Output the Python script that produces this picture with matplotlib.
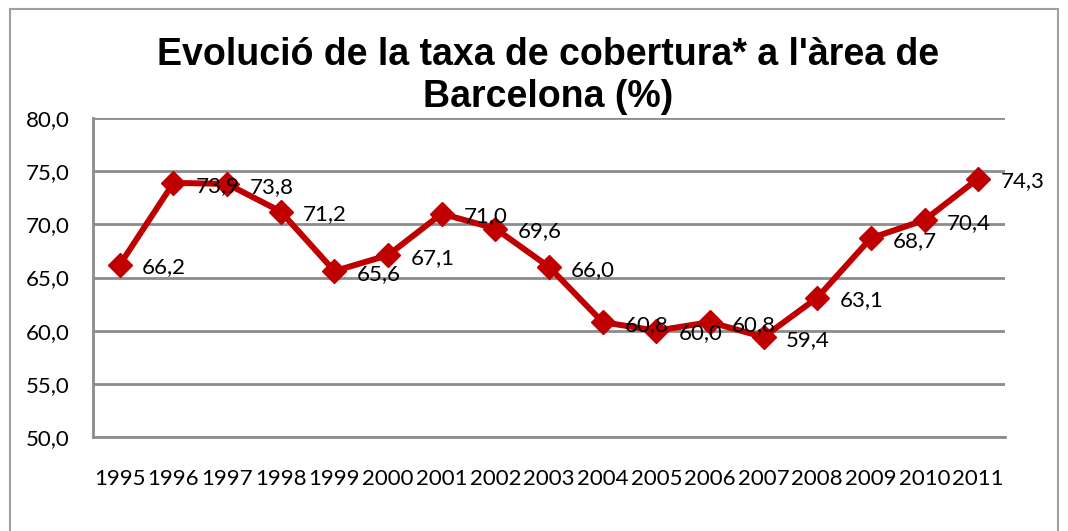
import matplotlib.pyplot as plt
from matplotlib.patches import Rectangle

years = ["1995", "1996", "1997", "1998", "1999", "2000", "2001", "2002", "2003",
         "2004", "2005", "2006", "2007", "2008", "2009", "2010", "2011"]
taxa = [66.2, 73.9, 73.8, 71.2, 65.6, 67.1, 71.0, 69.6, 66.0,
        60.8, 60.0, 60.8, 59.4, 63.1, 68.7, 70.4, 74.3]

red = "#C00000"
grid_col = "#8C8C8C"
label_font = "Lato"

fig = plt.figure(figsize=(10.68, 5.31), dpi=100)
ax = fig.add_axes([93 / 1068, 1 - 437 / 531, (1005 - 93) / 1068, (437 - 118) / 531])

x = range(len(years))
ax.plot(x, taxa, color=red, lw=4.3, marker="D", markersize=12, zorder=3)

for i, v in zip(x, taxa):
    ax.annotate(f"{v:.1f}".replace(".", ","), (i, v), xytext=(16, -2),
                textcoords="offset points", ha="left", va="center",
                fontsize=16, family=label_font)

ax.set_xlim(-0.5, len(years) - 0.5)
ax.set_ylim(50, 80)
ax.set_yticks(range(50, 81, 5))
ax.set_yticklabels([f"{t:.1f}".replace(".", ",") for t in range(50, 81, 5)],
                   fontsize=16, family=label_font)
ax.set_xticks(list(x))
ax.set_xticklabels(years, fontsize=16, family=label_font)
ax.tick_params(axis="both", length=0)
ax.tick_params(axis="y", pad=17)
ax.tick_params(axis="x", pad=23)
ax.yaxis.grid(True, color=grid_col, lw=2)
ax.set_axisbelow(True)
for s in ["top", "right"]:
    ax.spines[s].set_visible(False)
for s in ["left", "bottom"]:
    ax.spines[s].set_color(grid_col)
    ax.spines[s].set_linewidth(2)

fig.text(548 / 1068, 1 - 76 / 531, "Evolució de la taxa de cobertura* a l'àrea de\nBarcelona (%)",
         ha="center", va="center", fontsize=27, fontweight="bold",
         family="Liberation Sans", linespacing=1.2)

fig.patches.append(Rectangle((10 / 1068, -0.01), (1058 - 10) / 1068, 1 - 9 / 531 + 0.01,
                             transform=fig.transFigure, fill=False,
                             edgecolor="#A0A0A0", lw=1.5))

fig.savefig("out.png", dpi=100)
